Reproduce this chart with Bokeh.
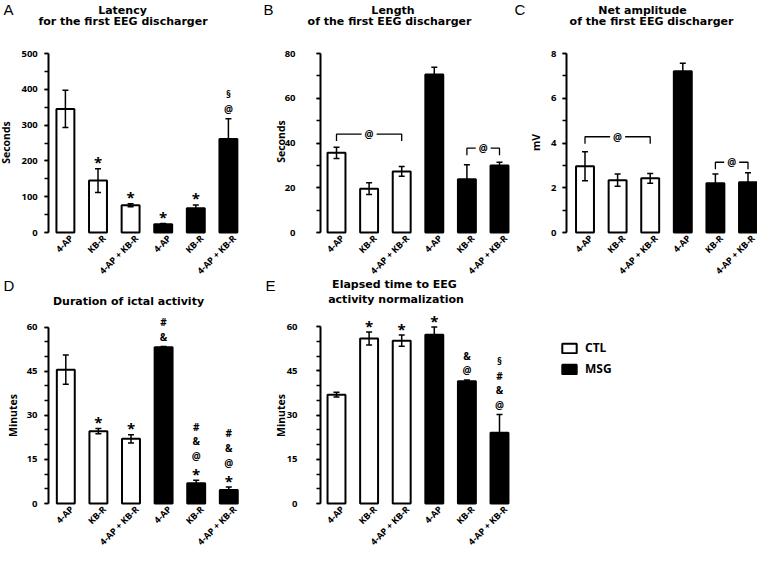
from math import pi
from bokeh.plotting import figure
from bokeh.models import (Range1d, FixedTicker, Whisker, TeeHead, ColumnDataSource,
                          Legend, LegendItem)
from bokeh.layouts import row, column
from bokeh.embed import file_html
from bokeh.resources import INLINE
from bokeh.core.properties import value

# ---------------- data ----------------
groups = ["4-AP", "KB-R", "4-AP + KB-R", "4-AP", "KB-R", "4-AP + KB-R"]
condition = ["CTL", "CTL", "CTL", "MSG", "MSG", "MSG"]
legend_labels = ["CTL", "MSG"]

latency_mean = [345, 145, 76, 23, 68, 261]
latency_err = [52, 33, 4, 2, 9, 57]
latency_marks = ["", "*", "*", "*", "*", "§@"]

length_mean = [35.6, 19.6, 27.3, 70.6, 23.8, 29.9]
length_err = [2.5, 2.6, 2.2, 3.3, 6.5, 1.5]
length_brackets = [(0, 2, 44.0), (4, 5, 37.7)]

amp_mean = [2.96, 2.34, 2.42, 7.21, 2.20, 2.25]
amp_err = [0.65, 0.27, 0.22, 0.35, 0.41, 0.42]
amp_brackets = [(0, 2, 4.28), (4, 5, 3.14)]

ictal_mean = [45.5, 24.6, 22.0, 53.1, 6.9, 4.6]
ictal_err = [5.0, 0.9, 1.4, 0.3, 1.0, 1.0]
ictal_marks = ["", "*", "*", "#&", "#&@*", "#&@*"]

norm_mean = [36.9, 55.9, 55.2, 57.2, 41.4, 24.0]
norm_err = [0.8, 2.2, 1.9, 2.6, 0.5, 6.2]
norm_marks = ["", "*", "*", "*", "&@", "§#&@"]

# ---------------- style / layout (pixels) ----------------
TICK_FONT = "Open Sans"
TITLE_FONT = "DejaVu Sans"
LETTER_FONT = "Liberation Sans"
UNIT = 32.6          # px between bar centres
BAR_W = 0.55
LABEL_SHIFT = 0.18


def make_panel(mean, err, ymax, major_step, minor_step, g, ylabel, letter, titles,
               ystandoff, marks=None, brackets=None):
    fl, ft, fw, fh = g["fig"]
    c0, axis_px, zero_px, top_px = g["c0"], g["axis"], g["zero"], g["top"]
    ppu = (zero_px - top_px) / ymax

    def X(px):
        return (px - c0) / UNIT

    def Y(py):
        return (zero_px - py) / ppu

    p = figure(width=fw, height=fh, output_backend="svg", toolbar_location=None,
               x_range=Range1d(X(fl), X(fl + fw)), y_range=Range1d(Y(ft + fh), Y(ft)),
               min_border_left=0, min_border_right=0, min_border_top=0, min_border_bottom=0,
               background_fill_color="white", border_fill_color="white")
    p.outline_line_color = None
    p.grid.visible = False

    xs = list(range(len(mean)))
    fills = ["white" if c == "CTL" else "black" for c in condition]
    src = ColumnDataSource(dict(x=xs, top=mean, fill=fills,
                                upper=[m + e for m, e in zip(mean, err)],
                                lower=[m - e for m, e in zip(mean, err)]))
    p.vbar(x="x", top="top", width=BAR_W, source=src, fill_color="fill",
           line_color="black", line_width=2)
    wk = Whisker(base="x", upper="upper", lower="lower", source=src,
                 line_color="black", line_width=1.5,
                 upper_head=TeeHead(size=6, line_width=1.5, line_color="black"),
                 lower_head=TeeHead(size=6, line_width=1.5, line_color="black"))
    wk.level = "overlay"
    p.add_layout(wk)

    # y axis drawn at its own place inside the panel
    ya = p.yaxis[0]
    ya.fixed_location = X(axis_px)
    ya.bounds = (0, ymax)
    ya.ticker = FixedTicker(ticks=list(range(0, ymax + 1, major_step)),
                            minor_ticks=list(range(0, ymax + 1, minor_step)))
    ya.axis_line_width = 2
    ya.major_tick_line_width = 1.5
    ya.minor_tick_line_width = 1.5
    ya.major_tick_out = 4
    ya.major_tick_in = 0
    ya.minor_tick_out = 4
    ya.minor_tick_in = 0
    ya.major_label_standoff = ystandoff
    ya.major_label_text_font = TICK_FONT
    ya.major_label_text_font_style = "bold"
    ya.major_label_text_font_size = "9.5px"
    ya.major_label_text_color = "black"

    xa = p.xaxis[0]
    xa.fixed_location = 0
    ticks = [i + LABEL_SHIFT for i in xs]
    xa.ticker = FixedTicker(ticks=ticks, minor_ticks=[])
    xa.major_label_overrides = {t: gname for t, gname in zip(ticks, groups)}
    xa.major_label_orientation = pi / 4
    xa.axis_line_color = None
    xa.major_tick_line_color = None
    xa.minor_tick_line_color = None
    xa.major_tick_out = 0
    xa.major_tick_in = 0
    xa.major_label_standoff = 4
    xa.major_label_text_font = TICK_FONT
    xa.major_label_text_font_style = "bold"
    xa.major_label_text_font_size = "9px"
    xa.major_label_text_color = "black"

    # panel letter
    p.text(x=[X(letter[1])], y=[Y(letter[2])], text=[letter[0]],
           text_font=value(LETTER_FONT), text_font_size="15px",
           text_align="left", text_baseline="alphabetic", text_color="black")
    # titles
    p.text(x=[X(t[1]) for t in titles], y=[Y(t[2]) for t in titles],
           text=[t[0] for t in titles], text_font=value(TITLE_FONT),
           text_font_style="bold", text_font_size="11px", text_align="center",
           text_baseline="alphabetic", text_color="black")
    # y axis title
    p.text(x=[X(ylabel[1])], y=[Y(ylabel[2])], text=[ylabel[0]], angle=pi / 2,
           text_font=value(TICK_FONT), text_font_style="bold", text_font_size="10.5px",
           text_align="center", text_baseline="middle", text_color="black")

    # significance marks stacked above the error bars
    if marks:
        mx, my, mt, mo, ms = [], [], [], [], []
        for i, s in enumerate(marks):
            n = len(s)
            for k, ch in enumerate(s):
                level = n - 1 - k
                mx.append(i)
                my.append(mean[i] + err[i])
                mt.append(ch)
                big = ch == "*"
                mo.append(-(9.5 + 14.7 * level) + (3 if big else 0))
                ms.append("15px" if big else "10px")
        msrc = ColumnDataSource(dict(x=mx, y=my, text=mt, yo=mo, size=ms))
        p.text(x="x", y="y", text="text", y_offset="yo", text_font_size="size",
               source=msrc, text_font=value(TICK_FONT), text_font_style="bold",
               text_align="center", text_baseline="middle", text_color="black")

    if brackets:
        depth = 7 / ppu
        gap = 7.5 / UNIT
        bxs, bys, ax, ay = [], [], [], []
        for i, j, h in brackets:
            xm = (i + j) / 2
            bxs += [[i, i, xm - gap], [xm + gap, j, j]]
            bys += [[h - depth, h, h], [h, h, h - depth]]
            ax.append(xm)
            ay.append(h)
        p.multi_line(xs=bxs, ys=bys, line_color="black", line_width=1.3)
        p.text(x=ax, y=ay, text=["@"] * len(ax), text_font=value(TICK_FONT),
               text_font_style="bold", text_font_size="10px", text_align="center",
               text_baseline="middle", text_color="black")
    return p


ROW1_H = 277
ROW2_H = 549 - ROW1_H
GA = dict(fig=(0, 0, 258, ROW1_H), c0=64.9, axis=48.3, zero=232, top=53)
GB = dict(fig=(258, 0, 254, ROW1_H), c0=336, axis=320, zero=232, top=53)
GC = dict(fig=(512, 0, 245, ROW1_H), c0=584.5, axis=566, zero=232, top=53)
GD = dict(fig=(0, ROW1_H, 258, ROW2_H), c0=65.3, axis=48, zero=503, top=326.5)
GE = dict(fig=(258, ROW1_H, 254, ROW2_H), c0=336, axis=320, zero=503, top=326)

pA = make_panel(latency_mean, latency_err, 500, 100, 50, GA,
                ("Seconds", 5, 142), ("A", 3, 9),
                [("Latency", 122, 10), ("for the first EEG discharger", 122.5, 21)],
                7, marks=latency_marks)
pB = make_panel(length_mean, length_err, 80, 20, 10, GB,
                ("Seconds", 280.5, 141), ("B", 263, 9),
                [("Length", 392.5, 10), ("of the first EEG discharger", 389, 21)],
                21, brackets=length_brackets)
pC = make_panel(amp_mean, amp_err, 8, 2, 1, GC,
                ("mV", 535.5, 142), ("C", 514, 9),
                [("Net amplitude", 642, 10), ("of the first EEG discharger", 651, 21)],
                6, brackets=amp_brackets)
pD = make_panel(ictal_mean, ictal_err, 60, 15, 5, GD,
                ("Minutes", 12, 415), ("D", 3, 285),
                [("Duration of ictal activity", 128, 300.5)],
                7, marks=ictal_marks)
pE = make_panel(norm_mean, norm_err, 60, 15, 5, GE,
                ("Minutes", 280.5, 415), ("E", 265, 285),
                [("Elapsed time to EEG", 394, 284), ("activity normalization", 395.5, 299)],
                19, marks=norm_marks)

# legend panel (proxy bars carry no drawable data, only their style)
pL = figure(width=245, height=ROW2_H, output_backend="svg", toolbar_location=None,
            x_range=Range1d(0, 1), y_range=Range1d(0, 1),
            min_border_left=0, min_border_right=0, min_border_top=0, min_border_bottom=0)
pL.axis.visible = False
pL.grid.visible = False
pL.outline_line_color = None
nan = float("nan")
r_ctl = pL.vbar(x=[nan], top=[nan], width=0.5, fill_color="white", line_color="black",
                line_width=2)
r_msg = pL.vbar(x=[nan], top=[nan], width=0.5, fill_color="black", line_color="black",
                line_width=2)
leg = Legend(items=[LegendItem(label=legend_labels[0], renderers=[r_ctl]),
                    LegendItem(label=legend_labels[1], renderers=[r_msg])],
             location=(560 - 512, 549 - 377),
             glyph_width=18, glyph_height=12, label_height=12, spacing=4,
             label_standoff=7, padding=0, margin=0,
             border_line_color=None, background_fill_alpha=0,
             label_text_font=TICK_FONT, label_text_font_style="bold",
             label_text_font_size="12px", label_text_color="black")
pL.add_layout(leg)

layout = column(row(pA, pB, pC), row(pD, pE, pL))
open("out.html", "w").write(file_html(layout, INLINE))
